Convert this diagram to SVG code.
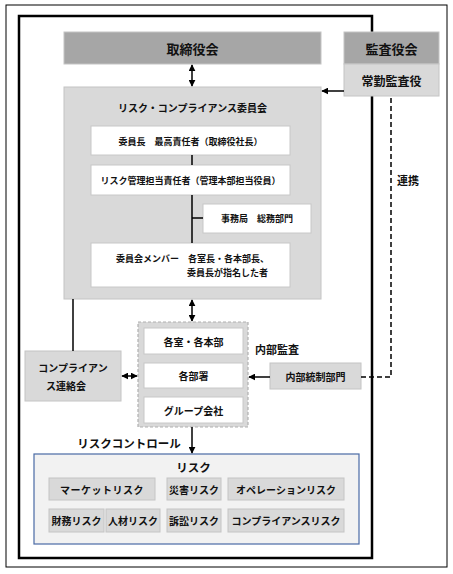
<svg xmlns="http://www.w3.org/2000/svg" width="453" height="574" viewBox="0 0 453 574">
<defs>
<marker id="ah" viewBox="0 0 10 10" refX="9" refY="5" markerWidth="7" markerHeight="7" markerUnits="userSpaceOnUse" orient="auto-start-reverse"><path d="M0,0 L10,5 L0,10 z" fill="#000"/></marker>
<style>
text{font-family:"Noto Sans CJK JP","Noto Sans",sans-serif;font-weight:bold;fill:#111;text-anchor:middle;dominant-baseline:central}
.dark{fill:#a6a6a6;stroke:#c4c4c4;stroke-width:1}
.mid{fill:#d9d9d9;stroke:#c4c4c4;stroke-width:1}
.white{fill:#fff;stroke:#c8c8c8;stroke-width:1}
.ln{stroke:#000;stroke-width:1.5;fill:none}
.t13{font-size:13px}
.t10{font-size:10px}
.t9{font-size:9px}
</style>
</defs>
<rect x="0" y="0" width="453" height="574" fill="#fff"/>
<rect x="6" y="5" width="441" height="562" fill="none" stroke="#000" stroke-width="1"/>
<rect x="19" y="16" width="353" height="542" fill="none" stroke="#000" stroke-width="2.5"/>

<g id="board"><rect class="dark" x="64" y="32" width="257" height="32"/><text class="t13" x="192.5" y="48">取締役会</text></g>
<g id="auditboard"><rect class="dark" x="344" y="32" width="95" height="32"/><text class="t13" x="391.5" y="48">監査役会</text></g>
<g id="auditor"><rect class="mid" x="344" y="64" width="95" height="32"/><text style="font-size:12px" x="391.5" y="80">常勤監査役</text></g>

<g id="committee"><rect class="mid" x="64" y="87" width="257" height="212"/><text class="t10" x="192.5" y="107">リスク・コンプライアンス委員会</text></g>
<g id="chair"><rect class="white" x="91" y="126" width="199" height="29"/><text class="t9" x="190.5" y="141">委員長　最高責任者（取締役社長）</text></g>
<g id="riskmgr"><rect class="white" x="91" y="165" width="199" height="30"/><text class="t9" x="190.5" y="180">リスク管理担当責任者（管理本部担当役員）</text></g>
<g id="secretariat"><rect class="white" x="203" y="204" width="108" height="29"/><text class="t9" x="257" y="218">事務局　総務部門</text></g>
<g id="members"><rect class="white" x="91" y="243" width="199" height="44"/><text class="t9" x="116" y="258" style="text-anchor:start">委員会メンバー　各室長・各本部長、</text><text class="t9" x="187" y="272" style="text-anchor:start">委員長が指名した者</text></g>

<g id="depts"><rect x="138" y="322" width="110" height="105" fill="#d9d9d9" stroke="#b0b0b0" stroke-width="1.2" stroke-dasharray="3,2"/></g>
<g id="honbu"><rect class="white" x="144" y="328" width="99" height="26"/><text class="t10" x="193.5" y="341">各室・各本部</text></g>
<g id="busho"><rect class="white" x="144" y="363" width="99" height="25"/><text class="t10" x="193.5" y="375.5">各部署</text></g>
<g id="group"><rect class="white" x="144" y="397" width="99" height="26"/><text class="t10" x="193.5" y="410">グループ会社</text></g>

<g id="compliance"><rect class="mid" x="25" y="351" width="96" height="50"/><text class="t10" x="73" y="367">コンプライアン</text><text class="t10" x="66" y="385">ス連絡会</text></g>
<g id="internal"><rect class="mid" x="270" y="363" width="91" height="26"/><text class="t10" x="315.5" y="376">内部統制部門</text></g>

<g id="risk"><rect x="34" y="454" width="325" height="90" fill="#f2f2f2" stroke="#4a6aa5" stroke-width="1.2"/><text style="font-size:11.5px" x="193.5" y="467">リスク</text></g>
<g id="r1"><rect class="mid" x="49" y="478" width="106" height="22"/><text class="t10" x="102" y="489" style="letter-spacing:0.5px">マーケットリスク</text></g>
<g id="r2"><rect class="mid" x="167" y="478" width="54" height="22"/><text class="t10" x="194" y="489">災害リスク</text></g>
<g id="r3"><rect class="mid" x="228" y="478" width="116" height="22"/><text class="t10" x="286" y="489">オペレーションリスク</text></g>
<g id="r4"><rect class="mid" x="49" y="509" width="55" height="23"/><text class="t10" x="76.5" y="520.5">財務リスク</text></g>
<g id="r5"><rect class="mid" x="106" y="509" width="54" height="23"/><text class="t10" x="133" y="520.5">人材リスク</text></g>
<g id="r6"><rect class="mid" x="167" y="509" width="54" height="23"/><text class="t10" x="194" y="520.5">訴訟リスク</text></g>
<g id="r7"><rect class="mid" x="228" y="509" width="116" height="23"/><text class="t10" x="286" y="520.5">コンプライアンスリスク</text></g>

<g id="connectors">
<line class="ln" x1="192" y1="65" x2="192" y2="86" marker-start="url(#ah)" marker-end="url(#ah)"/>
<line class="ln" x1="344" y1="91" x2="322" y2="91" marker-end="url(#ah)"/>
<line class="ln" x1="192" y1="155" x2="192" y2="165"/>
<line class="ln" x1="192" y1="195" x2="192" y2="243"/>
<line class="ln" x1="192" y1="218" x2="203" y2="218"/>
<line class="ln" x1="192" y1="300" x2="192" y2="321" marker-start="url(#ah)" marker-end="url(#ah)"/>
<line class="ln" x1="73" y1="299" x2="73" y2="351"/>
<line class="ln" x1="122" y1="376" x2="137" y2="376" marker-start="url(#ah)" marker-end="url(#ah)"/>
<line class="ln" x1="270" y1="377" x2="249" y2="377" marker-end="url(#ah)"/>
<polyline points="361,377 391,377 391,96" fill="none" stroke="#000" stroke-width="1.5" stroke-dasharray="5,3"/>
<line class="ln" x1="192" y1="427" x2="192" y2="453" marker-end="url(#ah)"/>
<text style="font-size:11px" x="277" y="349">内部監査</text>
<text style="font-size:11px" x="408" y="180">連携</text>
<text style="font-size:11.5px" x="129" y="443">リスクコントロール</text>
</g>
</svg>
